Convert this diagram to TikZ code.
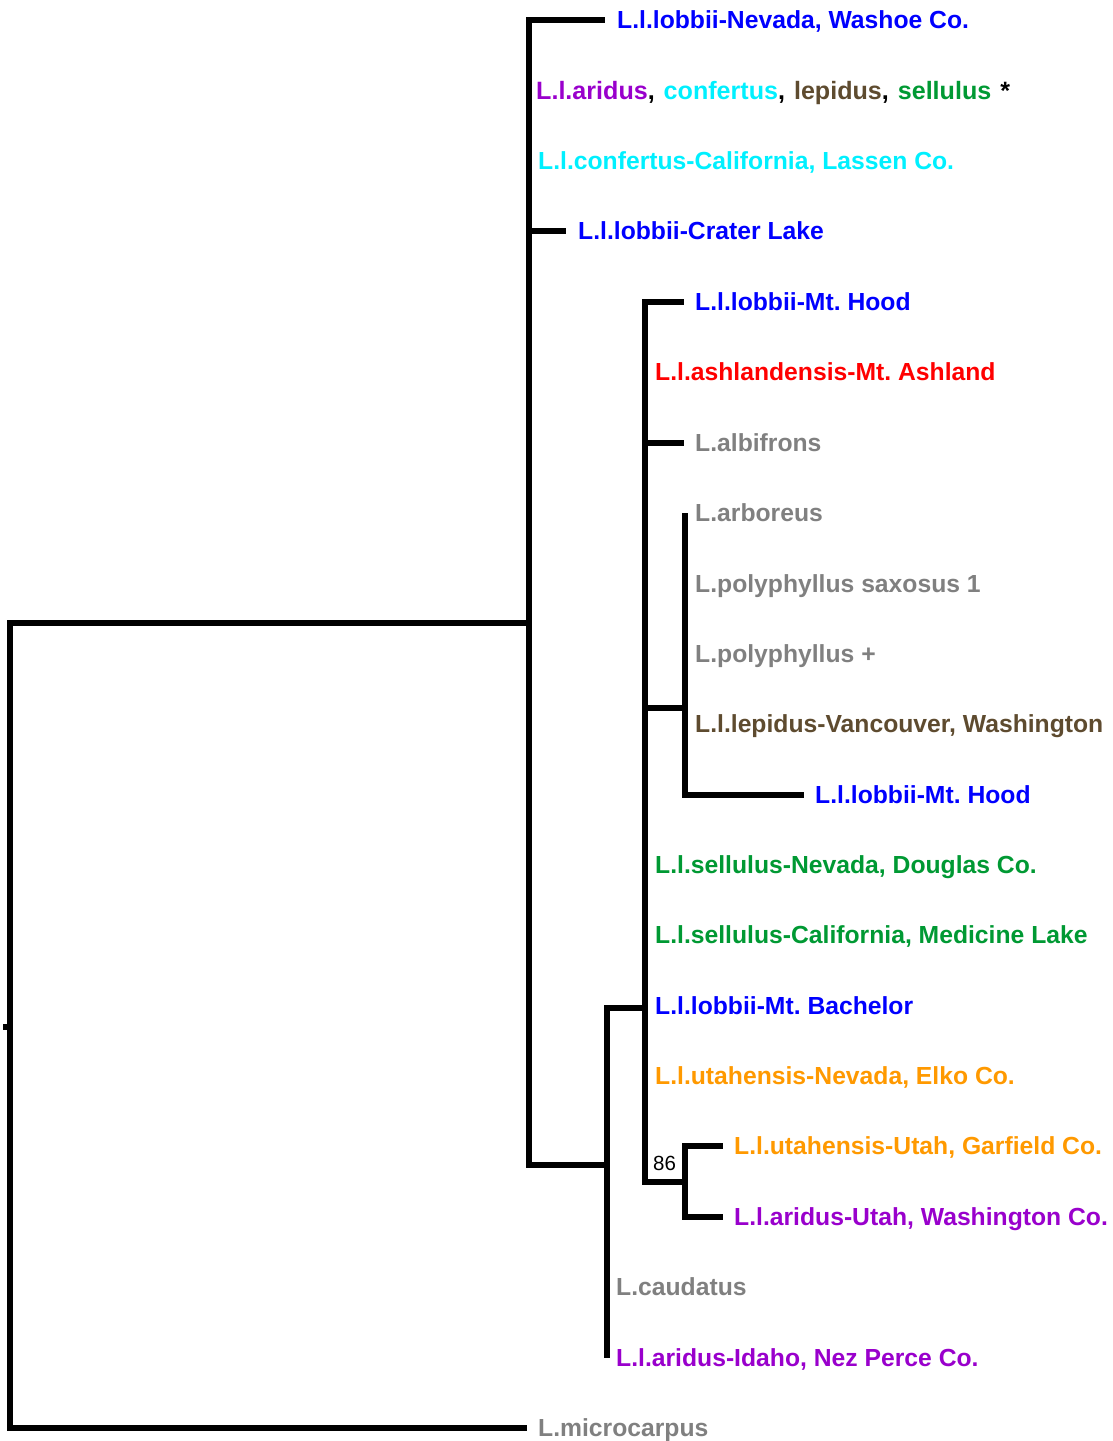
\documentclass[tikz,border=0pt]{standalone}
\usepackage{fontspec}
\setmainfont{Liberation Sans}
\frenchspacing
\definecolor{cblue}{HTML}{0000FF}
\definecolor{cpurple}{HTML}{9900CC}
\definecolor{ccyan}{HTML}{00F0FF}
\definecolor{cbrown}{HTML}{5E4B2F}
\definecolor{cgreen}{HTML}{009933}
\definecolor{cred}{HTML}{FF0000}
\definecolor{cgrey}{HTML}{808080}
\definecolor{corange}{HTML}{FF9900}
\newcommand\leaffont{\fontsize{24.7}{28}\selectfont\bfseries\frenchspacing}
\newcommand\mixfont{\fontsize{25.1}{28}\selectfont\bfseries\frenchspacing}
\newcommand\bootfont{\fontsize{20.5}{24}\selectfont}
\begin{document}
\begin{tikzpicture}[x=1pt,y=-1pt,
  branch/.style={line width=5.5pt, line join=miter},
  leaf/.style={anchor=base west, inner sep=0pt, font=\leaffont}]
\useasboundingbox (0,0) rectangle (1112,1441);
% internal nodes
\coordinate (Rs) at (3,1027);
\coordinate (R) at (10,1027);
\coordinate (A) at (529,623);
\coordinate (B) at (607,1165);
\coordinate (C) at (645,1008);
\coordinate (D) at (685,708);
\coordinate (E) at (685,1182);
% branch tips
\coordinate (t0) at (605,20);
\coordinate (t3) at (566,231);
\coordinate (t4) at (684,302);
\coordinate (t6) at (684,443);
\coordinate (t7) at (685,513);
\coordinate (t11) at (804,795);
\coordinate (t16) at (723,1146);
\coordinate (t17) at (723,1217);
\coordinate (t19) at (607,1358);
\coordinate (t20) at (527,1428);
% labels
\node[leaf, text=cblue] (l0) at (617,28.7) {L.l.lobbii-Nevada, Washoe Co.};
\node[leaf, text=black, font=\mixfont] (l1) at (536,99.7) {{\color{cpurple}L.l.aridus},\kern2pt{} {\color{ccyan}confertus},\kern2pt{} {\color{cbrown}lepidus},\kern2pt{} {\color{cgreen}sellulus}\kern2pt{} *};
\node[leaf, text=ccyan] (l2) at (538,169.7) {L.l.confertus-California, Lassen Co.};
\node[leaf, text=cblue] (l3) at (578,239.7) {L.l.lobbii-Crater Lake};
\node[leaf, text=cblue] (l4) at (695,310.7) {L.l.lobbii-Mt. Hood};
\node[leaf, text=cred] (l5) at (655,380.7) {L.l.ashlandensis-Mt. Ashland};
\node[leaf, text=cgrey] (l6) at (695,451.7) {L.albifrons};
\node[leaf, text=cgrey] (l7) at (695,521.7) {L.arboreus};
\node[leaf, text=cgrey] (l8) at (695,592.7) {L.polyphyllus saxosus 1};
\node[leaf, text=cgrey] (l9) at (695,662.7) {L.polyphyllus +};
\node[leaf, text=cbrown] (l10) at (695,732.7) {L.l.lepidus-Vancouver, Washington};
\node[leaf, text=cblue] (l11) at (815,803.7) {L.l.lobbii-Mt. Hood};
\node[leaf, text=cgreen] (l12) at (655,873.7) {L.l.sellulus-Nevada, Douglas Co.};
\node[leaf, text=cgreen] (l13) at (655,943.7) {L.l.sellulus-California, Medicine Lake};
\node[leaf, text=cblue] (l14) at (655,1014.7) {L.l.lobbii-Mt. Bachelor};
\node[leaf, text=corange] (l15) at (655,1084.7) {L.l.utahensis-Nevada, Elko Co.};
\node[leaf, text=corange] (l16) at (734,1154.7) {L.l.utahensis-Utah, Garfield Co.};
\node[leaf, text=cpurple] (l17) at (734,1225.7) {L.l.aridus-Utah, Washington Co.};
\node[leaf, text=cgrey] (l18) at (616,1295.7) {L.caudatus};
\node[leaf, text=cpurple] (l19) at (616,1366.7) {L.l.aridus-Idaho, Nez Perce Co.};
\node[leaf, text=cgrey] (l20) at (538,1436.7) {L.microcarpus};
\node[font=\bootfont, inner sep=0pt] (bs) at (664.5,1163.5) {86};
% branches
\draw[branch] (Rs) -- (R);
\draw[branch] (R) |- (A);
\draw[branch] (R) |- (t20);
\draw[branch] (A) |- (t0);
\draw[branch] (A) |- (t3);
\draw[branch] (A) |- (B);
\draw[branch] (B) |- (C);
\draw[branch] (B) |- (t19);
\draw[branch] (C) |- (t4);
\draw[branch] (C) |- (t6);
\draw[branch] (C) |- (D);
\draw[branch] (C) |- (E);
\draw[branch] (D) |- (t7);
\draw[branch] (D) |- (t11);
\draw[branch] (E) |- (t16);
\draw[branch] (E) |- (t17);
\end{tikzpicture}
\end{document}
